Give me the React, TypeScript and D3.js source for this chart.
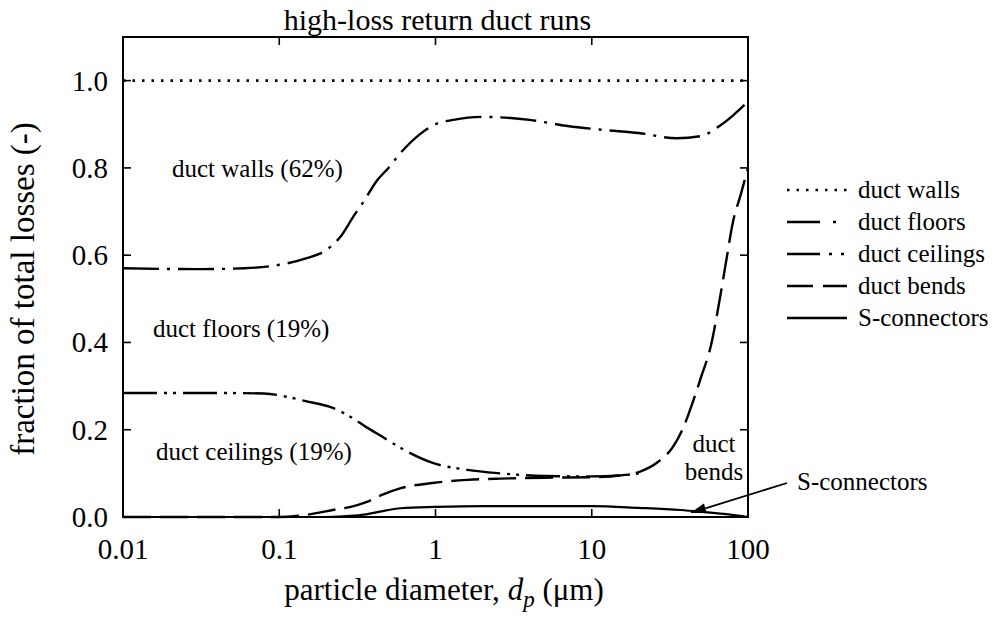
import React from "react";
import * as d3 from "d3";

const W = 997;
const H = 633;
const M = { left: 123, top: 37, right: 249, bottom: 116 };

// cumulative boundaries (fraction of total losses) vs particle diameter (µm)
const wallsX = [0.01, 100];
const wallsY = [1.0, 1.0];

const floorsX = [0.01, 0.03, 0.06, 0.1, 0.15, 0.2, 0.25, 0.3, 0.35, 0.42, 0.5, 0.6, 0.8, 1.0, 1.3, 2, 4, 7, 12, 20, 35, 50, 65, 80, 100];
const floorsY = [0.57, 0.568, 0.57, 0.578, 0.593, 0.612, 0.645, 0.69, 0.725, 0.77, 0.8, 0.835, 0.878, 0.9, 0.91, 0.917, 0.91, 0.896, 0.887, 0.88, 0.868, 0.873, 0.895, 0.92, 0.952];

const ceilingsX = [0.01, 0.05, 0.08, 0.11, 0.15, 0.22, 0.3, 0.36, 0.42, 0.6, 0.96, 1.6, 2.6, 5, 10, 15, 20];
const ceilingsY = [0.284, 0.284, 0.283, 0.276, 0.265, 0.25, 0.225, 0.206, 0.192, 0.158, 0.124, 0.108, 0.1, 0.094, 0.093, 0.095, 0.1];

const bendsX = [0.01, 0.1, 0.15, 0.22, 0.3, 0.36, 0.45, 0.6, 0.96, 1.6, 2.6, 5, 10, 15, 20, 26.5, 33, 38, 44, 50, 58, 66, 72, 80, 90, 100];
const bendsY = [0, 0.0, 0.005, 0.016, 0.025, 0.034, 0.05, 0.066, 0.078, 0.085, 0.088, 0.09, 0.091, 0.095, 0.103, 0.126, 0.16, 0.2, 0.26, 0.32, 0.394, 0.5, 0.58, 0.675, 0.74, 0.8];

const sconnX = [0.01, 0.2, 0.3, 0.36, 0.45, 0.6, 1, 2, 5, 10, 20, 37, 50, 70, 100];
const sconnY = [0, 0, 0.003, 0.006, 0.013, 0.02, 0.023, 0.025, 0.025, 0.025, 0.021, 0.016, 0.012, 0.007, 0.0];

const xTicks = [0.01, 0.1, 1, 10, 100];
const xTickLabels = ["0.01", "0.1", "1", "10", "100"];
const yTicks = [0, 0.2, 0.4, 0.6, 0.8, 1.0];

const legendNames = ["duct walls", "duct floors", "duct ceilings", "duct bends", "S-connectors"];

const FONT = "'Liberation Serif', 'Times New Roman', serif";

export default function App() {
  const iw = W - M.left - M.right;
  const ih = H - M.top - M.bottom;
  const x = d3.scaleLog().domain([0.01, 100]).range([M.left, M.left + iw]);
  const y = d3.scaleLinear().domain([0, 1.1]).range([M.top + ih, M.top]);

  const mk = (xs: number[], ys: number[]) =>
    d3
      .line<number>()
      .x((_, i) => x(xs[i]))
      .y((_, i) => y(ys[i]))
      .curve(d3.curveMonotoneX)(xs.map((_, i) => i)) || "";

  const styles = [
    { dash: "2.5,7", w: 2.6, cap: "butt" },
    { dash: "36,8,3,8", w: 2.4, cap: "butt" },
    { dash: "34,7,3,6,3,7", w: 2.4, cap: "butt" },
    { dash: "28,9", w: 2.4, cap: "butt" },
    { dash: "none", w: 2.2, cap: "butt" },
  ];

  const series = [
    { xs: wallsX, ys: wallsY },
    { xs: floorsX, ys: floorsY },
    { xs: ceilingsX, ys: ceilingsY },
    { xs: bendsX, ys: bendsY },
    { xs: sconnX, ys: sconnY },
  ];

  const legendDash = ["2.5,7", "33,13,3,60", "33,9,3,9,3,60", "26,10,24,60", "none"];

  const x0 = M.left, x1 = M.left + iw, y0 = M.top, y1 = M.top + ih;
  const tick = 8;

  // annotation tip in data units
  const tipX = x(42.6), tipY = y(0.009);
  const tailX = 787, tailY = 483;
  const ang = Math.atan2(tipY - tailY, tipX - tailX);
  const ah = 16, aw = 5;
  const bx = tipX - ah * Math.cos(ang), by = tipY - ah * Math.sin(ang);
  const head = `M${tipX},${tipY}L${bx + aw * Math.sin(ang)},${by - aw * Math.cos(ang)}L${bx - aw * Math.sin(ang)},${by + aw * Math.cos(ang)}Z`;

  return (
    <svg
      width={W}
      height={H}
      style={{ position: "absolute", left: 0, top: 0, background: "#fff" }}
      fontFamily={FONT}
    >
      <rect x={0} y={0} width={W} height={H} fill="#fff" />
      <text x={(x0 + x1) / 2 + 2} y={30} fontSize={30} textAnchor="middle" fill="#000">
        high-loss return duct runs
      </text>

      {series.map((s, i) => (
        <path
          key={i}
          d={mk(s.xs, s.ys)}
          fill="none"
          stroke="#000"
          strokeWidth={styles[i].w}
          strokeDasharray={styles[i].dash}
          strokeLinecap={styles[i].cap as any}
        />
      ))}

      {/* frame */}
      <rect x={x0} y={y0} width={iw} height={ih} fill="none" stroke="#000" strokeWidth={2} />

      {/* x ticks */}
      {xTicks.map((t, i) => (
        <g key={"xt" + i}>
          {i > 0 && i < xTicks.length - 1 && (
            <>
              <line x1={x(t)} x2={x(t)} y1={y1} y2={y1 - tick} stroke="#000" strokeWidth={1.6} />
              <line x1={x(t)} x2={x(t)} y1={y0} y2={y0 + tick} stroke="#000" strokeWidth={1.6} />
            </>
          )}
          <text x={x(t)} y={559} fontSize={29} textAnchor="middle" fill="#000">
            {xTickLabels[i]}
          </text>
        </g>
      ))}

      {/* y ticks */}
      {yTicks.map((t, i) => (
        <g key={"yt" + i}>
          {t > 0 && (
            <>
              <line x1={x0} x2={x0 + tick} y1={y(t)} y2={y(t)} stroke="#000" strokeWidth={1.6} />
              <line x1={x1} x2={x1 - tick} y1={y(t)} y2={y(t)} stroke="#000" strokeWidth={1.6} />
            </>
          )}
          <text x={108} y={y(t) + 10} fontSize={29} textAnchor="end" fill="#000">
            {t.toFixed(1)}
          </text>
        </g>
      ))}

      {/* axis labels */}
      <text x={444} y={600} fontSize={31} textAnchor="middle" fill="#000">
        particle diameter,{" "}
        <tspan fontStyle="italic">d</tspan>
        <tspan fontStyle="italic" fontSize={23} dy={7}>p</tspan>
        <tspan dy={-7}> (μm)</tspan>
      </text>
      <text
        transform={`translate(34,${(y0 + y1) / 2 + 12}) rotate(-90)`}
        fontSize={33}
        textAnchor="middle"
        fill="#000"
      >
        fraction of total losses (-)
      </text>

      {/* in-plot labels */}
      <text x={172} y={177} fontSize={25} fill="#000">duct walls (62%)</text>
      <text x={153} y={337} fontSize={25} fill="#000">duct floors (19%)</text>
      <text x={156} y={460} fontSize={25} fill="#000">duct ceilings (19%)</text>
      <text x={714} y={452} fontSize={25} textAnchor="middle" fill="#000">duct</text>
      <text x={714} y={480} fontSize={25} textAnchor="middle" fill="#000">bends</text>

      {/* S-connectors annotation */}
      <line x1={tailX} y1={tailY} x2={bx} y2={by} stroke="#000" strokeWidth={1.8} />
      <path d={head} fill="#000" />
      <text x={797} y={490} fontSize={25} fill="#000">S-connectors</text>

      {/* legend */}
      {legendNames.map((n, i) => {
        const ly = 190 + i * 32;
        return (
          <g key={"lg" + i}>
            <line
              x1={787}
              x2={847}
              y1={ly}
              y2={ly}
              stroke="#000"
              strokeWidth={2.4}
              strokeDasharray={legendDash[i]}
            />
            <text x={858} y={ly + 8} fontSize={25} fill="#000">{n}</text>
          </g>
        );
      })}
    </svg>
  );
}
